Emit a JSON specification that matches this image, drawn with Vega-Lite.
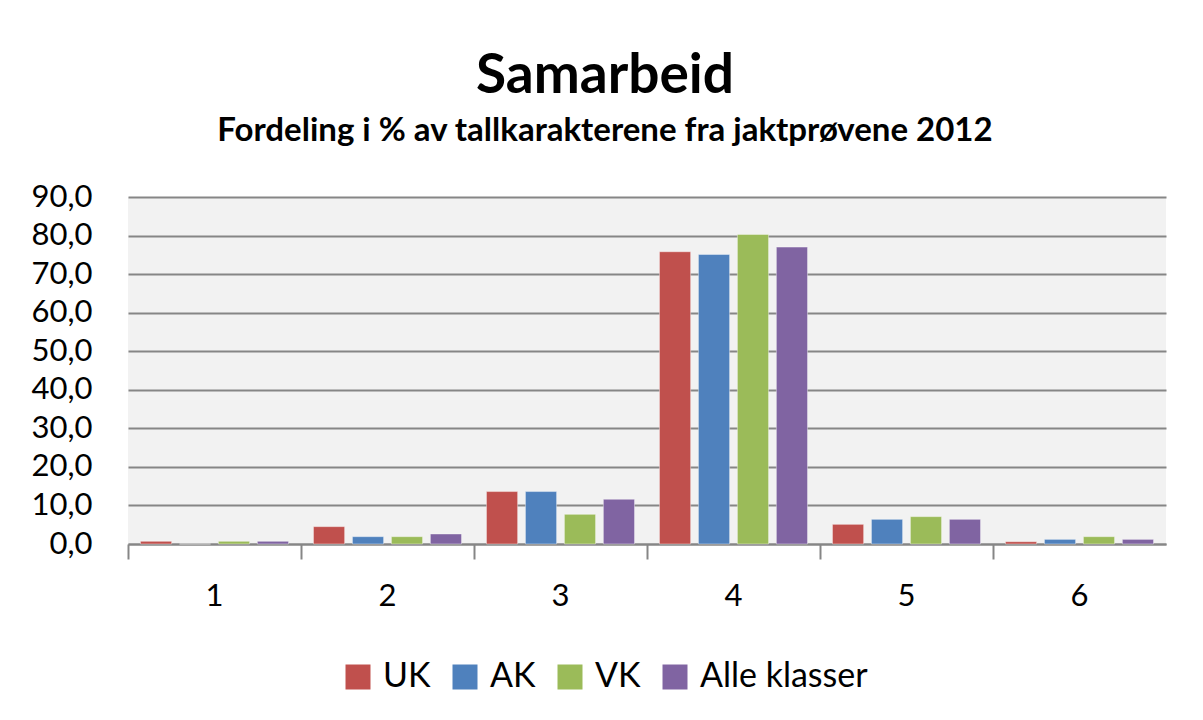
{
  "$schema": "https://vega.github.io/schema/vega-lite/v6.json",
  "width": 1038,
  "height": 347,
  "autosize": {"type": "none"},
  "padding": {"left": 128, "top": 197, "right": 37, "bottom": 176},
  "background": "white",
  "title": {
    "text": "Samarbeid",
    "subtitle": "Fordeling i % av tallkarakterene fra jaktprøvene 2012",
    "anchor": "middle",
    "dx": -42,
    "offset": 32,
    "font": "Lato",
    "fontSize": 55,
    "fontWeight": "bold",
    "color": "#000000",
    "subtitleFont": "Lato",
    "subtitleFontSize": 33,
    "subtitleFontWeight": "bold",
    "subtitleColor": "#000000",
    "subtitlePadding": 10
  },
  "data": {
    "values": [
      {"karakter": "1", "klasse": "UK", "prosent": 0.7},
      {"karakter": "1", "klasse": "AK", "prosent": 0.0},
      {"karakter": "1", "klasse": "VK", "prosent": 0.7},
      {"karakter": "1", "klasse": "Alle klasser", "prosent": 0.7},
      {"karakter": "2", "klasse": "UK", "prosent": 4.5},
      {"karakter": "2", "klasse": "AK", "prosent": 1.9},
      {"karakter": "2", "klasse": "VK", "prosent": 1.9},
      {"karakter": "2", "klasse": "Alle klasser", "prosent": 2.6},
      {"karakter": "3", "klasse": "UK", "prosent": 13.6},
      {"karakter": "3", "klasse": "AK", "prosent": 13.6},
      {"karakter": "3", "klasse": "VK", "prosent": 7.7},
      {"karakter": "3", "klasse": "Alle klasser", "prosent": 11.6},
      {"karakter": "4", "klasse": "UK", "prosent": 75.8},
      {"karakter": "4", "klasse": "AK", "prosent": 75.1},
      {"karakter": "4", "klasse": "VK", "prosent": 80.3},
      {"karakter": "4", "klasse": "Alle klasser", "prosent": 77.0},
      {"karakter": "5", "klasse": "UK", "prosent": 5.1},
      {"karakter": "5", "klasse": "AK", "prosent": 6.4},
      {"karakter": "5", "klasse": "VK", "prosent": 7.1},
      {"karakter": "5", "klasse": "Alle klasser", "prosent": 6.4},
      {"karakter": "6", "klasse": "UK", "prosent": 0.6},
      {"karakter": "6", "klasse": "AK", "prosent": 1.2},
      {"karakter": "6", "klasse": "VK", "prosent": 1.9},
      {"karakter": "6", "klasse": "Alle klasser", "prosent": 1.2}
    ]
  },
  "mark": {"type": "bar", "stroke": "#ffffff", "strokeOpacity": 0.4, "strokeWidth": 1},
  "encoding": {
    "x": {
      "field": "karakter",
      "type": "nominal",
      "sort": ["1", "2", "3", "4", "5", "6"],
      "scale": {"paddingInner": 0, "paddingOuter": 0},
      "axis": {
        "title": null,
        "labelAngle": 0,
        "bandPosition": 0,
        "ticks": true,
        "tickSize": 15,
        "tickWidth": 2,
        "tickColor": "#868686",
        "domainColor": "#868686",
        "domainWidth": 2,
        "labelFont": "Lato",
        "labelFontSize": 31,
        "labelColor": "#000000",
        "labelPadding": 22,
        "grid": false
      }
    },
    "xOffset": {
      "field": "klasse",
      "type": "nominal",
      "sort": ["UK", "AK", "VK", "Alle klasser"],
      "scale": {"paddingInner": 0.2, "paddingOuter": 0.32}
    },
    "y": {
      "field": "prosent",
      "type": "quantitative",
      "scale": {"domain": [0, 90], "nice": false},
      "axis": {
        "title": null,
        "values": [0, 10, 20, 30, 40, 50, 60, 70, 80, 90],
        "labelExpr": "replace(format(datum.value, '.1f'), '.', ',')",
        "domain": false,
        "ticks": false,
        "gridColor": "#868686",
        "gridWidth": 2,
        "labelFont": "Lato",
        "labelFontSize": 31,
        "labelColor": "#000000",
        "labelPadding": 36
      }
    },
    "color": {
      "field": "klasse",
      "type": "nominal",
      "sort": ["UK", "AK", "VK", "Alle klasser"],
      "scale": {
        "domain": ["UK", "AK", "VK", "Alle klasser"],
        "range": ["#c0504d", "#4f81bd", "#9bbb59", "#8064a2"]
      },
      "legend": {
        "title": null,
        "orient": "none",
        "direction": "horizontal",
        "legendX": 213,
        "legendY": 463,
        "symbolType": "square",
        "symbolSize": 625,
        "symbolStrokeWidth": 0,
        "symbolOpacity": 1,
        "labelFont": "Lato",
        "labelFontSize": 34,
        "labelLimit": 400,
        "labelColor": "#000000",
        "labelOffset": 8,
        "columnPadding": 17
      }
    }
  },
  "config": {
    "view": {"fill": "#f2f2f2", "stroke": null}
  }
}
